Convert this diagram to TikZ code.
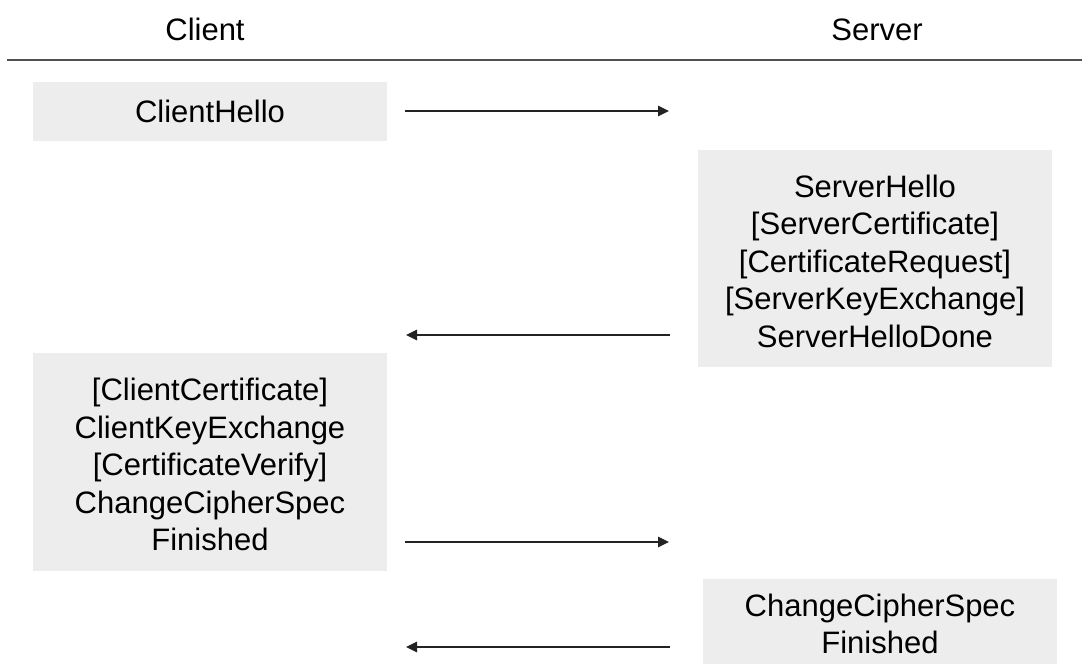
\documentclass[tikz,border=0pt]{standalone}
\usepackage{fontspec}
\setmainfont{Liberation Sans}
\usetikzlibrary{arrows.meta}

\definecolor{boxfill}{RGB}{237,237,237}
\definecolor{rulecol}{RGB}{80,80,80}
\definecolor{arrowcol}{RGB}{35,35,35}

\begin{document}
\begin{tikzpicture}[
    x=1pt, y=-1pt,
    every node/.style={inner sep=0pt, outer sep=0pt},
    msgbox/.style={rectangle, fill=boxfill, minimum width=354pt},
    msgtext/.style={align=center, font=\fontsize{31pt}{37.5pt}\selectfont},
    multitext/.style={msgtext, yshift=-2.5pt},
    header/.style={anchor=base, font=\fontsize{31pt}{37.5pt}\selectfont},
    flow/.style={draw=arrowcol, line width=1.4pt,
                 -{Triangle[length=11pt,width=10.5pt]}}
  ]
  \useasboundingbox (0,0) rectangle (1082,664);

  % column headings and rule
  \node[header] (client) at (205,40) {Client};
  \node[header] (server) at (877,40) {Server};
  \coordinate (ruleL) at (7,60);
  \coordinate (ruleR) at (1082,60);
  \draw[rulecol, line width=1.4pt] (ruleL) -- (ruleR);

  % message boxes
  \node[msgbox, minimum height=59pt]  (chbox) at (210,111.5) {};
  \node[msgbox, minimum height=217pt] (shbox) at (875,258.5) {};
  \node[msgbox, minimum height=218pt] (ckbox) at (210,462) {};
  \node[msgbox, minimum height=85pt]  (sfbox) at (880,621.5) {};

  % message texts (optional messages in brackets)
  \node[msgtext] (chtext) at (chbox) {ClientHello};
  \node[multitext] (shtext) at (shbox) {ServerHello\\{[}ServerCertificate{]}\\{[}CertificateRequest{]}\\{[}ServerKeyExchange{]}\\ServerHelloDone};
  \node[multitext] (cktext) at (ckbox) {{[}ClientCertificate{]}\\ClientKeyExchange\\{[}CertificateVerify{]}\\ChangeCipherSpec\\Finished};
  \node[multitext] (sftext) at (sfbox) {ChangeCipherSpec\\Finished};

  % message flow arrows
  \coordinate (f1a) at (405,111);   \coordinate (f1b) at (669,111);
  \coordinate (f2a) at (670,335);   \coordinate (f2b) at (406,335);
  \coordinate (f3a) at (405,542);   \coordinate (f3b) at (669,542);
  \coordinate (f4a) at (670,647);   \coordinate (f4b) at (406,647);
  \draw[flow] (f1a) -- (f1b);
  \draw[flow] (f2a) -- (f2b);
  \draw[flow] (f3a) -- (f3b);
  \draw[flow] (f4a) -- (f4b);
\end{tikzpicture}
\end{document}
